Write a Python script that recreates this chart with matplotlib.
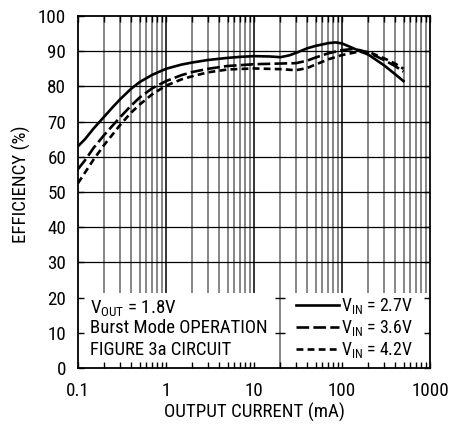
import matplotlib
matplotlib.use('Agg')
import matplotlib.pyplot as plt
from matplotlib import font_manager
from matplotlib.patches import Rectangle
from matplotlib.ticker import FixedLocator, NullFormatter

# condensed Helvetica look; first one that is installed wins
installed = {f.name for f in font_manager.fontManager.ttflist}
for fam in ['Nimbus Sans Narrow', 'Liberation Sans Narrow', 'Arial Narrow',
            'Roboto Condensed', 'Archivo Narrow', 'Liberation Sans']:
    if fam in installed:
        FONT = fam
        break
else:
    FONT = 'DejaVu Sans'
plt.rcParams['font.family'] = [FONT, 'DejaVu Sans']
plt.rcParams['mathtext.fontset'] = 'custom'
plt.rcParams['mathtext.rm'] = FONT
plt.rcParams['mathtext.it'] = FONT

# Data (output current in mA, efficiency in %)
i_27 = [0.1, 0.12, 0.15, 0.2, 0.25, 0.3, 0.4, 0.5, 0.7, 1, 1.5, 2, 3, 5, 7, 10, 15, 20,
        25, 30, 40, 50, 70, 85, 100, 130, 160, 200, 300, 400, 500]
eff_27 = [63, 65, 68, 71.5, 74.2, 76.3, 79.3, 81.2, 83.3, 85, 86.2, 86.8, 87.5, 88.1, 88.4, 88.6, 88.5, 88.3,
          88.8, 89.5, 90.8, 91.5, 92.3, 92.5, 92.2, 91, 90, 89, 86, 83.5, 81.5]

i_36 = [0.1, 0.12, 0.15, 0.2, 0.25, 0.3, 0.4, 0.5, 0.7, 1, 1.5, 2, 3, 5, 10, 20, 30,
        40, 50, 70, 100, 130, 160, 200, 300, 400, 500]
eff_36 = [56.5, 59, 62.5, 66.3, 69, 71.2, 74.5, 76.8, 79.5, 81.5, 83.2, 84.1, 85, 85.8, 86.3, 86.5, 86.6,
          87.3, 88.2, 89.4, 90.3, 90.6, 90.3, 89.6, 87.5, 85.8, 84.2]

i_42 = [0.1, 0.12, 0.15, 0.2, 0.25, 0.3, 0.4, 0.5, 0.7, 1, 1.5, 2, 3, 5, 10, 20, 30,
        40, 50, 70, 100, 150, 200, 300, 400, 500]
eff_42 = [52.5, 55.5, 59.2, 63.5, 66.5, 69, 72.5, 74.8, 77.8, 80.2, 82, 82.9, 84, 84.8, 85.1, 84.9, 84.6,
          85.2, 86.2, 87.7, 88.9, 89.8, 89.8, 88, 86.5, 85]

x_major = [0.1, 1, 10, 100, 1000]
x_labels = ['0.1', '1', '10', '100', '1000']
y_ticks = list(range(0, 101, 10))
notes = [r'V$_{\rm OUT}$ = 1.8V', 'Burst Mode OPERATION', 'FIGURE 3a CIRCUIT']

fig = plt.figure(figsize=(4.53, 4.26), dpi=100)
ax = fig.add_axes([78 / 453, 58 / 426, 352 / 453, 352 / 426])
ax.set_xscale('log')
ax.set_xlim(0.1, 1000)
ax.set_ylim(0, 100)

# grid drawn by hand so the white boxes can hide it but not the ticks
x_minor = [m * d for d in [0.1, 1, 10, 100] for m in range(2, 10)]
ax.vlines(x_minor, 0, 100, color='#666666', lw=1.1, zorder=1)
ax.vlines(x_major[1:-1], 0, 100, color='black', lw=1.1, zorder=1)
ax.hlines(y_ticks[1:-1], 0.1, 1000, color='black', lw=0.9, zorder=1)

ax.add_patch(Rectangle((0, 0), 1, 0.213, transform=ax.transAxes,
                       facecolor='white', edgecolor='none', zorder=2))
ax.vlines([20], 0, 21.3, color='#666666', lw=1.1, zorder=2.1)
ax.plot([20, 20], [10, 20], ls='none', marker='_', ms=7, mew=1.0, color='black', zorder=2.1)

ax.set_axisbelow(False)
ax.xaxis.set_major_locator(FixedLocator(x_major))
ax.set_xticklabels(x_labels)
ax.xaxis.set_minor_locator(FixedLocator(x_minor))
ax.xaxis.set_minor_formatter(NullFormatter())
ax.set_yticks(y_ticks)
ax.tick_params(which='both', direction='in', top=True, right=True, labelsize=13.7, width=1.0)
ax.tick_params(which='major', length=4)
ax.tick_params(which='minor', length=4)
ax.tick_params(axis='x', pad=10)
ax.tick_params(axis='y', pad=8.5)
for s in ax.spines.values():
    s.set_linewidth(1.3)

l1, = ax.plot(i_27, eff_27, color='black', lw=1.9, zorder=3, label=r'V$_{\rm IN}$ = 2.7V')
l2, = ax.plot(i_36, eff_36, color='black', lw=1.9, zorder=3, dashes=(4.8, 1.6), label=r'V$_{\rm IN}$ = 3.6V')
l3, = ax.plot(i_42, eff_42, color='black', lw=1.9, zorder=3, dashes=(2.6, 1.6), label=r'V$_{\rm IN}$ = 4.2V')

ax.set_xlabel('OUTPUT CURRENT (mA)', fontsize=13.6)
ax.set_ylabel('EFFICIENCY (%)', fontsize=13.6)
ax.xaxis.set_label_coords(0.5, -0.1)
ax.yaxis.set_label_coords(-0.1335, 0.523)

for y, s in zip([0.155, 0.0986, 0.037], notes):
    ax.text(0.034, y, s, transform=ax.transAxes, fontsize=13.5, va='baseline', zorder=4)

leg = ax.legend(handles=[l1, l2, l3], loc='lower right', bbox_to_anchor=(0.961, 0.012),
                frameon=False, fontsize=12.8, handlelength=2.4, handletextpad=0.1,
                labelspacing=0.12, borderpad=0.2, borderaxespad=0)
leg.set_zorder(4)

fig.savefig('out.png', dpi=100)
